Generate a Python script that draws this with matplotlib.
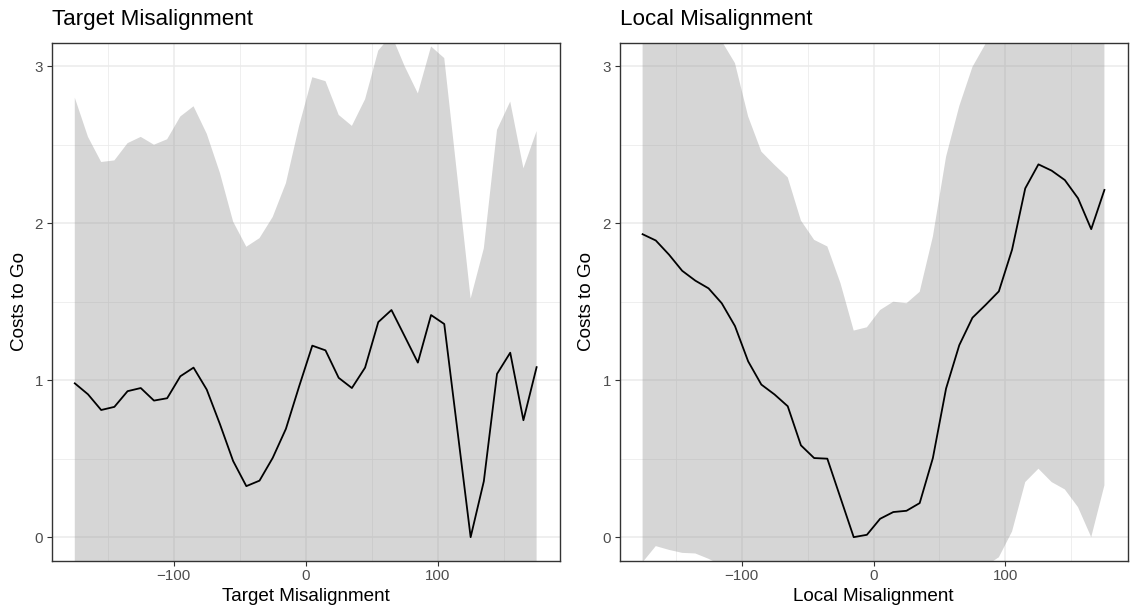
import matplotlib
matplotlib.use("Agg")
import matplotlib.pyplot as plt

plt.rcParams['font.family'] = ['Liberation Sans', 'DejaVu Sans']

# Misalignment bins (degrees)
angles = [-175, -165, -155, -145, -135, -125, -115, -105, -95, -85, -75, -65,
          -55, -45, -35, -25, -15, -5, 5, 15, 25, 35, 45, 55,
          65, 75, 85, 95, 105, 115, 125, 135, 145, 155, 165, 175]

# Target misalignment: mean costs to go and confidence band
target_mean = [0.98, 0.91, 0.81, 0.83, 0.93, 0.95, 0.87, 0.885, 1.025, 1.08, 0.94, 0.72,
               0.485, 0.325, 0.36, 0.505, 0.69, 0.96, 1.22, 1.19, 1.015, 0.95, 1.08, 1.37,
               1.447, 1.28, 1.112, 1.415, 1.358, 0.68, 0.0, 0.356, 1.04, 1.175, 0.745, 1.083]
target_upper = [2.80, 2.55, 2.39, 2.40, 2.51, 2.55, 2.50, 2.535, 2.68, 2.745, 2.57, 2.32,
                2.01, 1.85, 1.905, 2.04, 2.255, 2.62, 2.93, 2.905, 2.69, 2.62, 2.79, 3.10,
                3.20, 3.00, 2.827, 3.126, 3.052, 2.29, 1.52, 1.84, 2.595, 2.775, 2.35, 2.587]
target_lower = [-0.84, -0.73, -0.77, -0.74, -0.65, -0.65, -0.76, -0.765, -0.63, -0.585, -0.69, -0.88,
                -1.04, -1.20, -1.185, -1.03, -0.875, -0.70, -0.49, -0.525, -0.66, -0.72, -0.63, -0.36,
                -0.31, -0.44, -0.60, -0.30, -0.34, -0.93, -1.52, -1.13, -0.515, -0.425, -0.86, -0.42]

# Local misalignment: mean costs to go and confidence band
local_mean = [1.93, 1.89, 1.80, 1.697, 1.634, 1.585, 1.49, 1.345, 1.12, 0.972, 0.909, 0.834,
              0.585, 0.504, 0.50, 0.25, 0.0, 0.015, 0.117, 0.16, 0.168, 0.217, 0.504, 0.947,
              1.223, 1.398, 1.48, 1.566, 1.831, 2.222, 2.375, 2.335, 2.275, 2.159, 1.962, 2.212]
local_upper = [4.01, 3.84, 3.68, 3.50, 3.37, 3.31, 3.16, 3.02, 2.68, 2.456, 2.371, 2.292,
               2.017, 1.894, 1.852, 1.617, 1.316, 1.337, 1.447, 1.50, 1.49, 1.563, 1.915, 2.424,
               2.746, 2.996, 3.144, 3.26, 3.63, 4.09, 4.31, 4.32, 4.25, 4.13, 3.92, 4.09]
local_lower = [-0.16, -0.057, -0.081, -0.10, -0.104, -0.138, -0.18, -0.33, -0.44, -0.51, -0.55, -0.62,
               -0.85, -0.89, -0.85, -1.12, -1.32, -1.31, -1.21, -1.18, -1.15, -1.13, -0.91, -0.53,
               -0.30, -0.20, -0.184, -0.128, 0.036, 0.351, 0.436, 0.351, 0.304, 0.191, 0.0, 0.330]

x_major = [-100, 0, 100]
x_minor = [-150, -50, 50, 150]
y_major = [0, 1, 2, 3]
y_minor = [0.5, 1.5, 2.5]

W, H = 1133, 612
fig = plt.figure(figsize=(W / 100, H / 100), dpi=100)


def panel(left_px, mean, lower, upper, title, xlabel):
    top_px, bottom_px, width_px = 42.7, 560.7, 508.0
    ax = fig.add_axes([left_px / W, 1 - bottom_px / H, width_px / W, (bottom_px - top_px) / H])
    ax.set_xlim(-192.5, 192.5)
    ax.set_ylim(-0.15, 3.15)
    ax.set_xticks(x_major)
    ax.set_xticks(x_minor, minor=True)
    ax.set_yticks(y_major)
    ax.set_yticks(y_minor, minor=True)
    ax.grid(which='major', color='#EBEBEB', lw=1.1)
    ax.grid(which='minor', color='#EBEBEB', lw=0.55)
    ax.set_axisbelow(True)
    ax.fill_between(angles, lower, upper, color='#999999', alpha=0.4, lw=0, zorder=1.5)
    ax.plot(angles, mean, color='black', lw=1.3, zorder=2)
    for s in ax.spines.values():
        s.set_color('#333333')
        s.set_linewidth(1.0)
    ax.tick_params(which='major', length=3.5, width=0.8, color='#333333',
                   labelcolor='#4D4D4D', labelsize=10.9, pad=2.8)
    ax.tick_params(which='minor', length=0)
    ax.set_xlabel(xlabel, fontsize=13.6, labelpad=3.5)
    ax.set_ylabel('Costs to Go', fontsize=13.6, labelpad=5)
    ax.set_title(title, loc='left', fontsize=16.1, pad=13)
    return ax


panel(51.7, target_mean, target_lower, target_upper, 'Target Misalignment', 'Target Misalignment')
panel(619.5, local_mean, local_lower, local_upper, 'Local Misalignment', 'Local Misalignment')

fig.savefig('out.png', dpi=100, facecolor='white')
